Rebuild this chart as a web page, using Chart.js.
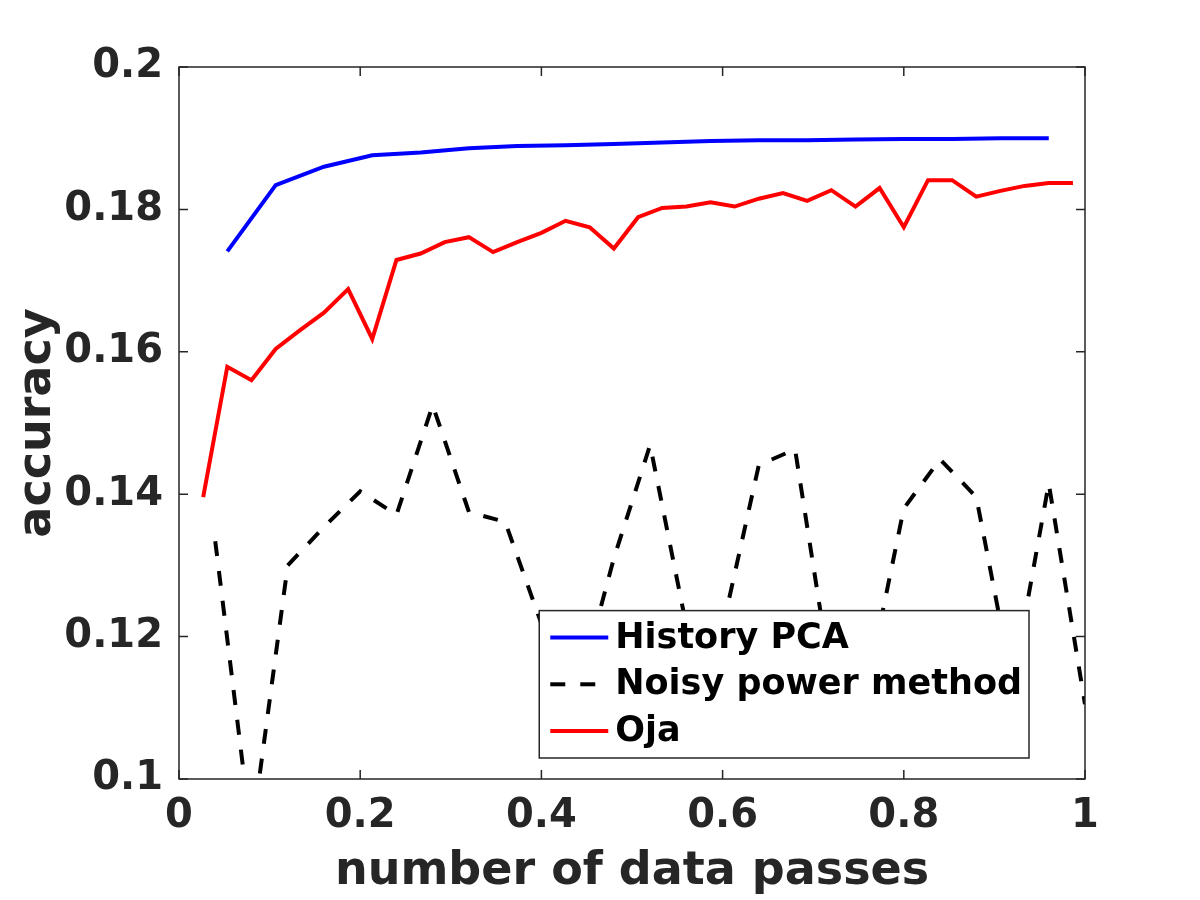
<!DOCTYPE html>
<html>
<head>
<meta charset="utf-8">
<script src="https://cdn.jsdelivr.net/npm/chart.js@4"></script>
<style>
  html, body { margin: 0; padding: 0; background: #fff; }
  canvas { display: block; }
</style>
</head>
<body>
<canvas id="accChart" width="1200" height="900"></canvas>
<script>
const seriesNames = ["History PCA", "Noisy power method", "Oja"];

const historyX = [0.0533, 0.1067, 0.16, 0.2133, 0.2667, 0.32, 0.3733, 0.4267, 0.48,
  0.5333, 0.5867, 0.64, 0.6933, 0.7467, 0.8, 0.8533, 0.9067, 0.96];
const historyY = [0.1741, 0.1834, 0.1860, 0.1876, 0.1880, 0.1886, 0.1889, 0.1890, 0.1892,
  0.1894, 0.1896, 0.1897, 0.1897, 0.1898, 0.1899, 0.1899, 0.1900, 0.1900];

const noisyX = [0.04, 0.08, 0.12, 0.16, 0.2, 0.24, 0.28, 0.32, 0.36, 0.4, 0.44, 0.48, 0.52,
  0.56, 0.6, 0.64, 0.68, 0.72, 0.76, 0.8, 0.84, 0.88, 0.92, 0.96, 1.0];
const noisyY = [0.1334, 0.0920, 0.1300, 0.1354, 0.1404, 0.1371, 0.1525, 0.1375, 0.1361, 0.1218,
  0.1120, 0.1310, 0.1469, 0.1215, 0.1212, 0.1441, 0.1463, 0.1138, 0.1132, 0.1380,
  0.1449, 0.1396, 0.1133, 0.1415, 0.1105];

const ojaX = [0.0267, 0.0533, 0.08, 0.1067, 0.1333, 0.16, 0.1867, 0.2133, 0.24, 0.2667,
  0.2933, 0.32, 0.3467, 0.3733, 0.4, 0.4267, 0.4533, 0.48, 0.5067, 0.5333, 0.56, 0.5867,
  0.6133, 0.64, 0.6667, 0.6933, 0.72, 0.7467, 0.7733, 0.8, 0.8267, 0.8533, 0.88, 0.9067,
  0.9333, 0.96, 0.9867];
const ojaY = [0.1396, 0.1579, 0.1560, 0.1604, 0.1630, 0.1655, 0.1688, 0.1618, 0.1729, 0.1738,
  0.1754, 0.1761, 0.1740, 0.1754, 0.1767, 0.1784, 0.1775, 0.1745, 0.1789, 0.1802, 0.1804,
  0.1810, 0.1804, 0.1815, 0.1823, 0.1812, 0.1827, 0.1804, 0.1830, 0.1775, 0.1841, 0.1841,
  0.1818, 0.1826, 0.1833, 0.1837, 0.1837];

const xTicks = [0, 0.2, 0.4, 0.6, 0.8, 1];
const yTicks = [0.1, 0.12, 0.14, 0.16, 0.18, 0.2];

const axisColor = "#262626";
const fontFamily = "'DejaVu Sans', sans-serif";

function zip(xs, ys) {
  return xs.map((x, i) => ({ x: x, y: ys[i] }));
}

function fmt(v) {
  return String(Number(v.toFixed(2)));
}

// MATLAB-like box with inward ticks plus the legend inside the axes
const boxPlugin = {
  id: "matlabBox",
  afterDraw(chart) {
    const ctx = chart.ctx;
    const a = chart.chartArea;
    const xs = chart.scales.x;
    const ys = chart.scales.y;
    const tl = 9;
    ctx.save();
    ctx.strokeStyle = axisColor;
    ctx.lineWidth = 1.5;
    ctx.strokeRect(a.left, a.top, a.right - a.left, a.bottom - a.top);
    ctx.beginPath();
    xTicks.forEach(v => {
      const px = xs.getPixelForValue(v);
      ctx.moveTo(px, a.bottom); ctx.lineTo(px, a.bottom - tl);
      ctx.moveTo(px, a.top); ctx.lineTo(px, a.top + tl);
    });
    yTicks.forEach(v => {
      const py = ys.getPixelForValue(v);
      ctx.moveTo(a.left, py); ctx.lineTo(a.left + tl, py);
      ctx.moveTo(a.right, py); ctx.lineTo(a.right - tl, py);
    });
    ctx.stroke();

    // legend
    ctx.font = "bold 35px " + fontFamily;
    const sets = chart.data.datasets;
    const textW = Math.max(...sets.map(d => ctx.measureText(d.label).width));
    const sampleW = 58, gapL = 11, gapT = 7, padR = 7, rowH = 46.7, padV = 27;
    const boxW = gapL + sampleW + gapT + textW + padR;
    const boxH = rowH * (sets.length - 1) + padV * 2;
    const bx = a.right - 56 - boxW;
    const by = a.bottom - 21 - boxH;
    ctx.fillStyle = "#fff";
    ctx.fillRect(bx, by, boxW, boxH);
    ctx.lineWidth = 1.5;
    ctx.strokeStyle = axisColor;
    ctx.strokeRect(bx, by, boxW, boxH);
    sets.forEach((d, i) => {
      const cy = by + padV + i * rowH;
      ctx.beginPath();
      ctx.strokeStyle = d.borderColor;
      ctx.lineWidth = d.borderWidth;
      ctx.setLineDash(d.borderDash || []);
      ctx.moveTo(bx + gapL, cy);
      ctx.lineTo(bx + gapL + sampleW, cy);
      ctx.stroke();
      ctx.setLineDash([]);
      ctx.fillStyle = "#000";
      ctx.textBaseline = "middle";
      ctx.textAlign = "left";
      ctx.fillText(d.label, bx + gapL + sampleW + gapT, cy + 1);
    });
    ctx.restore();
  }
};

new Chart(document.getElementById("accChart"), {
  type: "line",
  data: {
    datasets: [
      {
        label: seriesNames[0],
        data: zip(historyX, historyY),
        borderColor: "#0000ff",
        borderWidth: 4,
        pointRadius: 0,
        tension: 0,
      },
      {
        label: seriesNames[1],
        data: zip(noisyX, noisyY),
        borderColor: "#000000",
        borderWidth: 4,
        borderDash: [15, 15],
        pointRadius: 0,
        tension: 0,
      },
      {
        label: seriesNames[2],
        data: zip(ojaX, ojaY),
        borderColor: "#ff0000",
        borderWidth: 4,
        pointRadius: 0,
        tension: 0,
      },
    ],
  },
  options: {
    responsive: false,
    animation: false,
    devicePixelRatio: 1,
    layout: { padding: { top: 67, right: 115, left: 0, bottom: 0 } },
    plugins: {
      legend: { display: false },
      tooltip: { enabled: false },
    },
    scales: {
      x: {
        type: "linear",
        min: 0,
        max: 1,
        afterFit: s => { s.height = 121; },
        afterBuildTicks: s => { s.ticks = xTicks.map(v => ({ value: v })); },
        grid: { display: false, drawTicks: false },
        border: { display: false },
        ticks: {
          color: axisColor,
          padding: 14,
          font: { family: fontFamily, size: 40, weight: "bold" },
          callback: v => fmt(v),
        },
        title: {
          display: true,
          text: "number of data passes",
          color: axisColor,
          padding: { top: 0, bottom: 0 },
          font: { family: fontFamily, size: 46, weight: "bold" },
        },
      },
      y: {
        type: "linear",
        min: 0.1,
        max: 0.2,
        afterFit: s => { s.width = 179; },
        afterBuildTicks: s => { s.ticks = yTicks.map(v => ({ value: v })); },
        grid: { display: false, drawTicks: false },
        border: { display: false },
        ticks: {
          color: axisColor,
          padding: 16,
          font: { family: fontFamily, size: 40, weight: "bold" },
          callback: v => fmt(v),
        },
        title: {
          display: true,
          text: "accuracy",
          color: axisColor,
          padding: { top: 10, bottom: 0 },
          font: { family: fontFamily, size: 46, weight: "bold" },
        },
      },
    },
  },
  plugins: [boxPlugin],
});
</script>
</body>
</html>
